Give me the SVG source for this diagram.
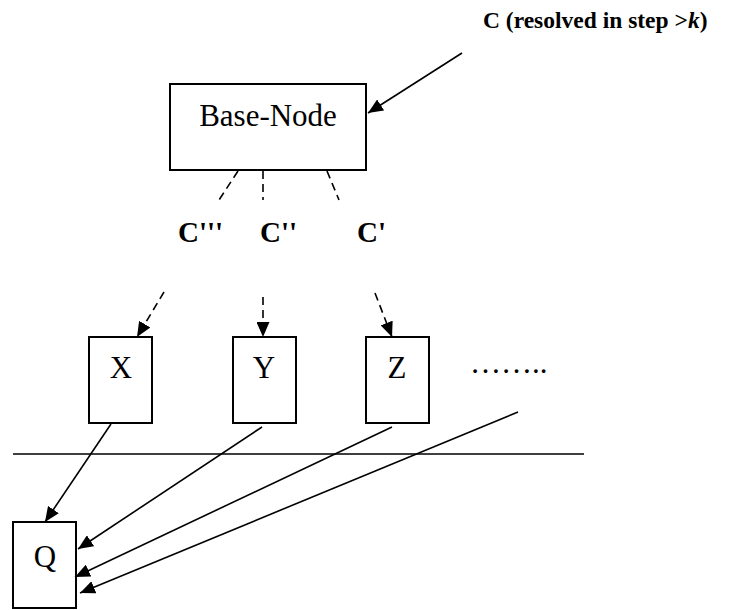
<svg xmlns="http://www.w3.org/2000/svg" width="729" height="610" viewBox="0 0 729 610">
<style>
.box{fill:#fff;stroke:#000;stroke-width:2}
.lbl{font-family:"Liberation Serif","Times New Roman",serif;font-size:31px;fill:#000;text-anchor:middle}
.bold{font-family:"Liberation Serif","Times New Roman",serif;font-weight:bold;fill:#000}
.ln{stroke:#000;stroke-width:1.6;fill:none}
.dash{stroke:#000;stroke-width:1.6;fill:none;stroke-dasharray:8 5}
</style>
<defs>
<marker id="ah" markerUnits="userSpaceOnUse" markerWidth="16" markerHeight="13" refX="15" refY="6.5" orient="auto">
<path d="M0,0 L15,6.5 L0,13 z" fill="#000"/>
</marker>
</defs>
<text class="bold" x="483" y="28" font-size="23.5px">C (resolved in step &gt;<tspan font-style="italic">k</tspan>)</text>
<g id="base-node">
<rect class="box" x="170" y="84" width="196" height="86"/>
<text class="lbl" x="268" y="126">Base-Node</text>
</g>
<g id="labels">
<text class="bold" x="178" y="242" font-size="29px">C'''</text>
<text class="bold" x="260" y="242" font-size="29px">C''</text>
<text class="bold" x="357" y="242" font-size="29px">C'</text>
</g>
<g id="X"><rect class="box" x="89" y="337" width="63" height="86"/><text class="lbl" x="121" y="378">X</text></g>
<g id="Y"><rect class="box" x="233" y="337" width="63" height="86"/><text class="lbl" x="264" y="378">Y</text></g>
<g id="Z"><rect class="box" x="366" y="337" width="63" height="86"/><text class="lbl" x="397" y="378">Z</text></g>
<g id="dots"><text class="lbl" x="470" y="373" style="text-anchor:start">……..</text></g>
<g id="Q"><rect class="box" x="13" y="522" width="63" height="86"/><text class="lbl" x="45" y="567">Q</text></g>
<g id="connectors">
<line class="ln" x1="462" y1="53" x2="368" y2="113" marker-end="url(#ah)"/>
<line class="dash" x1="238" y1="171" x2="219" y2="200"/>
<line class="dash" x1="263" y1="171" x2="263" y2="200"/>
<line class="dash" x1="327" y1="171" x2="339" y2="200"/>
<line class="dash" x1="164" y1="292" x2="137" y2="337" marker-end="url(#ah)"/>
<line class="dash" x1="263" y1="297" x2="263" y2="337" marker-end="url(#ah)"/>
<line class="dash" x1="375" y1="293" x2="392" y2="337" marker-end="url(#ah)"/>
<line class="ln" x1="13" y1="454" x2="584" y2="454"/>
<line class="ln" x1="111" y1="424" x2="45" y2="522" marker-end="url(#ah)"/>
<line class="ln" x1="262" y1="427" x2="78" y2="549" marker-end="url(#ah)"/>
<line class="ln" x1="392" y1="427" x2="75" y2="577" marker-end="url(#ah)"/>
<line class="ln" x1="518" y1="412" x2="80" y2="593" marker-end="url(#ah)"/>
</g>
</svg>
